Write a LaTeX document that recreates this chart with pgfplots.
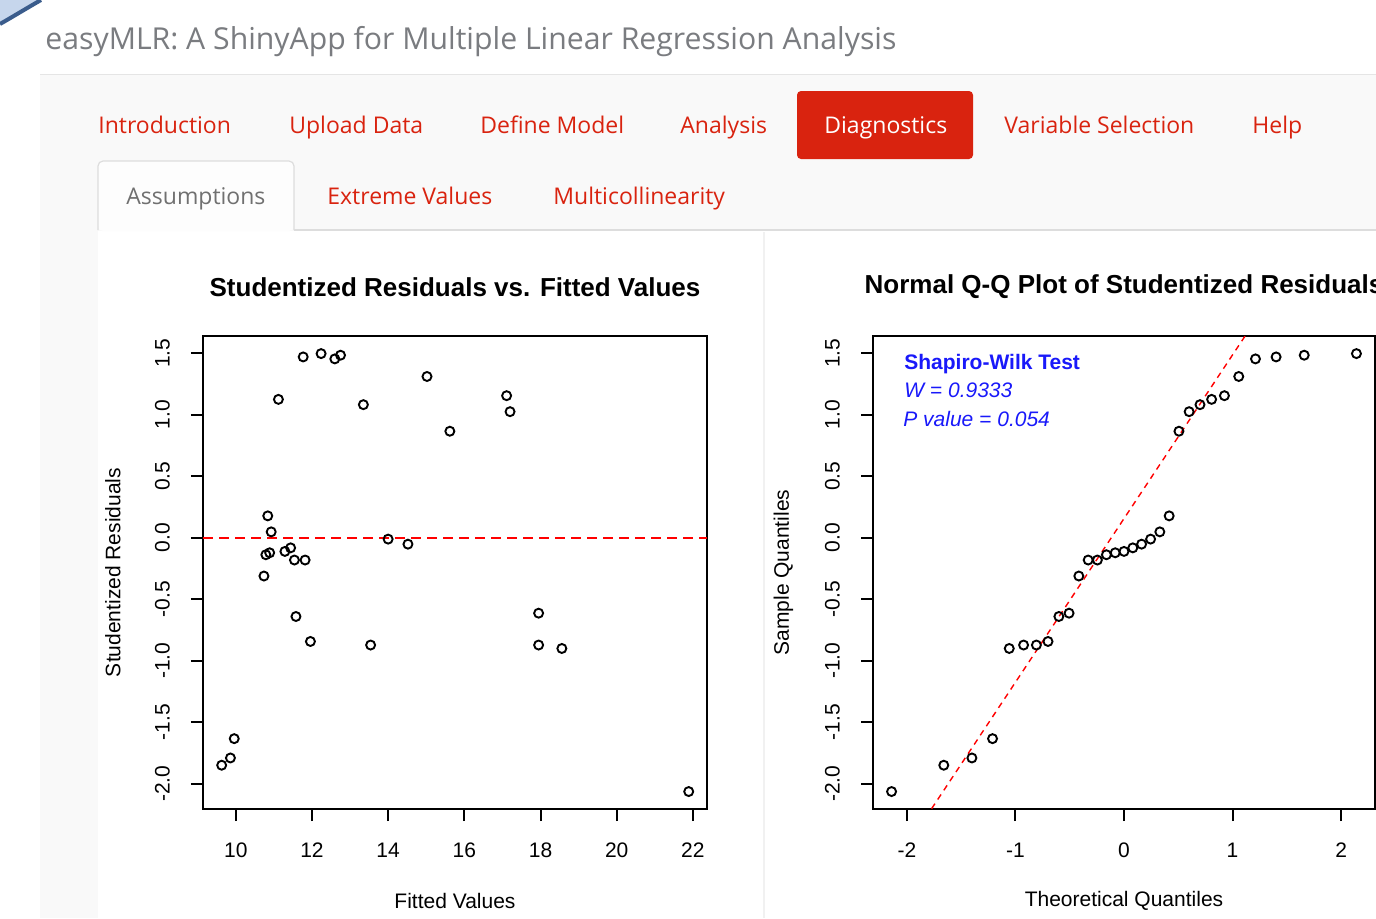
\documentclass[border=0pt]{standalone}
\usepackage{pgfplots}
\usepackage{pgfplotstable}
\pgfplotsset{compat=1.18}
\usepackage{fontspec}
\setmainfont{Liberation Sans}
\newfontfamily\opensans{Open Sans}
\definecolor{navred}{RGB}{217,35,15}
\definecolor{titlegray}{RGB}{122,124,128}
\definecolor{tabgray}{RGB}{112,112,112}
\definecolor{panelbg}{RGB}{249,249,249}
\definecolor{linegray}{RGB}{229,229,229}
\definecolor{tabborder}{RGB}{221,221,221}
\definecolor{swblue}{RGB}{25,25,250}
\definecolor{cornerfill}{RGB}{198,214,236}
\definecolor{cornerline}{RGB}{58,92,140}

\pgfplotstableread{
x y
11.77 1.470
12.24 1.497
12.60 1.454
12.75 1.484
11.12 1.125
13.35 1.082
15.02 1.311
15.62 0.866
17.11 1.155
17.20 1.025
10.84 0.178
10.93 0.048
14.00 -0.011
14.52 -0.052
10.79 -0.138
10.89 -0.122
11.29 -0.111
11.44 -0.082
11.54 -0.181
11.82 -0.181
10.74 -0.311
11.58 -0.640
11.96 -0.843
13.54 -0.872
17.95 -0.613
17.95 -0.872
18.56 -0.900
9.96 -1.633
9.86 -1.790
9.63 -1.849
21.89 -2.063
}\residtable

\pgfplotstableread{
q s
-2.141 -2.063
-1.660 -1.849
-1.401 -1.790
-1.211 -1.633
-1.057 -0.900
-0.925 -0.872
-0.807 -0.872
-0.700 -0.843
-0.600 -0.640
-0.506 -0.613
-0.416 -0.311
-0.330 -0.181
-0.245 -0.181
-0.162 -0.138
-0.081 -0.122
0.000 -0.111
0.081 -0.082
0.162 -0.052
0.245 -0.011
0.330 0.048
0.416 0.178
0.506 0.866
0.600 1.025
0.700 1.082
0.807 1.125
0.925 1.155
1.057 1.311
1.211 1.454
1.401 1.470
1.660 1.484
2.141 1.497
}\qqtable

\pgfplotsset{
  rplot/.style={
    scale only axis, height=236.5pt,
    anchor=south west,
    axis line style={line width=1pt},
    tick align=outside, major tick length=6pt,
    tick style={black, line width=1pt},
    xtick pos=bottom, ytick pos=left,
    ticklabel style={font=\fontsize{10.5}{12}\selectfont},
    yticklabel style={rotate=90, anchor=south},
    xticklabel shift=7.5pt, yticklabel shift=7pt,
    ytick={-2,-1.5,-1,-0.5,0,0.5,1,1.5},
    yticklabels={-2.0,-1.5,-1.0,-0.5,0.0,0.5,1.0,1.5},
    ymin=-2.205, ymax=1.640,
    every axis title/.style={at={(axis description cs:0.5,1.1036)}, anchor=center, font=\bfseries\fontsize{13}{15}\selectfont},
    xlabel style={at={(axis description cs:0.5,-0.1945)}, anchor=center, font=\fontsize{10.5}{12}\selectfont},
    ylabel style={at={(axis description cs:-0.1786,0.5)}, anchor=center, font=\fontsize{10.5}{12}\selectfont},
  },
  rmark/.style={only marks, mark=o, mark size=2.25pt, black, mark options={line width=0.95pt}},
}

\begin{document}
\begin{tikzpicture}
\path[use as bounding box] (0pt,0pt) rectangle (688pt,-459pt);
\clip (0pt,0pt) rectangle (688pt,-459pt);
\begin{scope}[x=0.5pt,y=-0.5pt]
  \fill[white] (0,0) rectangle (1376,918);
  % corner decoration
  \fill[cornerfill] (0,0) -- (0,24) .. controls (14,16) and (27,8) .. (41,0) -- cycle;
  \draw[cornerline, line width=2pt] (0,24) .. controls (14,16) and (27,8) .. (41,0);
  % page title
  \node[anchor=base west, inner sep=0pt, text=titlegray, font=\opensans\fontsize{15.1}{17}\selectfont] at (45,49) {easyMLR: A ShinyApp for Multiple Linear Regression Analysis};
  % panel
  \fill[panelbg] (40,74) rectangle (1376,918);
  \draw[linegray, line width=0.5pt] (40,74) -- (1376,74);
  % nav pills
  \fill[navred, rounded corners=2pt] (797,91) rectangle (973,159);
  \begin{scope}[every node/.style={anchor=base west, inner sep=0pt, text=navred, font=\opensans\fontsize{11.5}{14}\selectfont}]
    \node at (98,133) {Introduction};
    \node at (289,133) {Upload Data};
    \node at (480,133) {Define Model};
    \node at (680,133) {Analysis};
    \node[text=white] at (824,133) {Diagnostics};
    \node at (1004,133) {Variable Selection};
    \node at (1252,133) {Help};
    \node at (327,204) {Extreme Values};
    \node at (553,204) {Multicollinearity};
  \end{scope}
  % tab content
  \fill[white] (98,231) rectangle (1376,918);
  \fill[white!60!panelbg, rounded corners=2.5pt] (98,231) -- (98,161) -- (294,161) -- (294,231) -- cycle;
  \node[anchor=base west, inner sep=0pt, text=tabgray, font=\opensans\fontsize{11.5}{14}\selectfont] at (126,204) {Assumptions};
  \draw[tabborder, line width=0.6pt, rounded corners=2.5pt] (98,230) -- (98,161) -- (294,161) -- (294,230);
  \draw[tabborder, line width=0.6pt] (294,230) -- (1376,230);
  \draw[panelbg!70!tabborder, line width=1pt] (764,232) -- (764,918);
\end{scope}

% ---------- left plot ----------
\begin{axis}[rplot, width=252pt, at={(101.5pt,-404.5pt)},
  xmin=9.14, xmax=22.37,
  xtick={10,12,14,16,18,20,22},
  xticklabels={10,12,14,16,18,20,22},
  title={Studentized Residuals vs. Fitted Values},
  xlabel={Fitted Values}, ylabel={Studentized Residuals}]
  \addplot[red, line width=0.9pt, dash pattern=on 5pt off 3pt] coordinates {(9.14,0) (22.37,0)};
  \addplot[rmark] table[x=x, y=y] {\residtable};
\end{axis}

% ---------- right plot ----------
\begin{axis}[rplot, width=251pt, at={(436.5pt,-404.5pt)},
  xmin=-2.312, xmax=2.312,
  xtick={-2,-1,0,1,2},
  xticklabels={-2,-1,0,1,2},
  title={Normal Q-Q Plot of Studentized Residuals},
  xlabel={Theoretical Quantiles}, ylabel={Sample Quantiles}]
  \addplot[red, line width=0.7pt, dash pattern=on 3pt off 2.5pt] coordinates {(-2.5,-3.171) (2.5,3.483)};
  \addplot[rmark] table[x=q, y=s] {\qqtable};
  \node[anchor=west, inner sep=0pt, text=swblue, font=\bfseries\fontsize{10.5}{12}\selectfont] at (axis cs:-2.027,1.414) {Shapiro-Wilk Test};
  \node[anchor=west, inner sep=0pt, text=swblue, font=\itshape\fontsize{10.5}{12}\selectfont] at (axis cs:-2.027,1.195) {W = 0.9333};
  \node[anchor=west, inner sep=0pt, text=swblue, font=\itshape\fontsize{10.5}{12}\selectfont] at (axis cs:-2.036,0.968) {P value = 0.054};
\end{axis}
\end{tikzpicture}
\end{document}
